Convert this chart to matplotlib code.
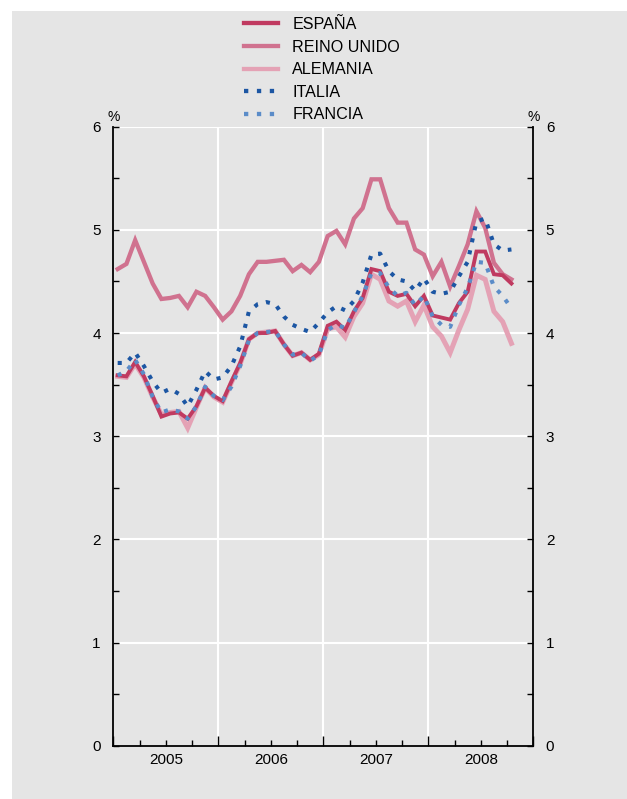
import matplotlib
matplotlib.use("Agg")
import matplotlib.pyplot as plt
from matplotlib.patches import Rectangle
from matplotlib.lines import Line2D
import numpy as np

plt.rcParams['font.family'] = ['Liberation Sans', 'DejaVu Sans']

# Monthly data, Jan 2005 - Oct 2008
years = ["2005", "2006", "2007", "2008"]
espana = [3.59, 3.58, 3.72, 3.58, 3.39, 3.19, 3.22, 3.23, 3.17, 3.29, 3.47, 3.39,
          3.34, 3.53, 3.71, 3.94, 4.00, 4.00, 4.02, 3.89, 3.78, 3.81, 3.74, 3.80,
          4.07, 4.11, 4.03, 4.21, 4.34, 4.62, 4.60, 4.40, 4.36, 4.38, 4.26, 4.36,
          4.17, 4.15, 4.13, 4.29, 4.40, 4.79, 4.79, 4.57, 4.56, 4.48]
reino_unido = [4.62, 4.67, 4.90, 4.69, 4.48, 4.33, 4.34, 4.36, 4.25, 4.40, 4.36, 4.25,
               4.13, 4.21, 4.36, 4.57, 4.69, 4.69, 4.70, 4.71, 4.60, 4.66, 4.59, 4.69,
               4.94, 4.99, 4.86, 5.11, 5.21, 5.49, 5.49, 5.21, 5.07, 5.07, 4.81, 4.76,
               4.55, 4.69, 4.45, 4.65, 4.86, 5.18, 5.02, 4.68, 4.57, 4.52]
alemania = [3.58, 3.57, 3.70, 3.57, 3.38, 3.21, 3.23, 3.24, 3.08, 3.28, 3.47, 3.38,
            3.33, 3.52, 3.70, 3.94, 4.00, 4.01, 4.02, 3.89, 3.78, 3.81, 3.74, 3.79,
            4.04, 4.06, 3.96, 4.16, 4.29, 4.57, 4.52, 4.31, 4.26, 4.31, 4.11, 4.27,
            4.06, 3.97, 3.81, 4.03, 4.23, 4.56, 4.52, 4.21, 4.11, 3.90]
italia = [3.71, 3.71, 3.81, 3.68, 3.53, 3.42, 3.46, 3.41, 3.29, 3.45, 3.63, 3.55,
          3.57, 3.68, 3.87, 4.21, 4.28, 4.30, 4.28, 4.16, 4.08, 4.04, 4.01, 4.10,
          4.20, 4.26, 4.22, 4.31, 4.49, 4.76, 4.77, 4.60, 4.52, 4.50, 4.41, 4.53,
          4.40, 4.38, 4.40, 4.55, 4.69, 5.08, 5.11, 4.86, 4.80, 4.81]
francia = [3.59, 3.63, 3.74, 3.60, 3.38, 3.23, 3.26, 3.24, 3.17, 3.29, 3.48, 3.39,
           3.35, 3.48, 3.68, 3.93, 4.00, 4.01, 4.02, 3.89, 3.79, 3.81, 3.73, 3.79,
           4.03, 4.08, 4.05, 4.20, 4.36, 4.58, 4.58, 4.44, 4.36, 4.39, 4.27, 4.36,
           4.16, 4.08, 4.06, 4.27, 4.44, 4.69, 4.68, 4.45, 4.36, 4.24]

W, H = 627, 799
fig = plt.figure(figsize=(W / 100, H / 100), dpi=100)
fig.patch.set_facecolor('white')
gray = '#e5e5e5'
fig.add_artist(Rectangle((12 / W, 0), 1 - 12 / W, 1 - 11 / H, transform=fig.transFigure,
                         facecolor=gray, edgecolor='none', zorder=0))

left, right, top, bottom = 113.3, 533.3, 126.7, 745.7
ax = fig.add_axes([left / W, 1 - bottom / H, (right - left) / W, (bottom - top) / H])
ax.set_facecolor(gray)

x = np.arange(len(espana)) + 0.5  # month midpoints (months since Jan 2005)

lw = 4.3 * 72 / 100
c_es = '#c03a60'
c_ru = '#d0728f'
c_al = '#e4a2b5'
c_it = '#1c56a3'
c_fr = '#5b8cc8'

ax.plot(x, reino_unido, color=c_ru, lw=lw, solid_joinstyle='miter', zorder=3, label='REINO UNIDO')
ax.plot(x, alemania, color=c_al, lw=lw * 1.15, solid_joinstyle='miter', zorder=3, label='ALEMANIA')
ax.plot(x, espana, color=c_es, lw=lw * 0.9, solid_joinstyle='miter', zorder=4, label='ESPAÑA')
ax.plot(x, italia, color=c_it, lw=lw * 0.95, dashes=(1, 2.0), dash_capstyle='butt', zorder=5, label='ITALIA')
ax.plot(x, francia, color=c_fr, lw=lw * 0.95, dashes=(1, 2.0), dash_capstyle='butt', zorder=6, label='FRANCIA')

ax.set_xlim(0, 48)
ax.set_ylim(0, 6)

# grid
for v in range(1, 7):
    ax.axhline(v, color='white', lw=1.5, zorder=1)
for v in (12, 24, 36):
    ax.axvline(v, color='white', lw=1.5, zorder=1)

ax.spines['top'].set_visible(False)
for s in ('left', 'right', 'bottom'):
    ax.spines[s].set_color('black')
    ax.spines[s].set_linewidth(1.3)

ax.set_yticks(np.arange(0, 7, 1))
ax.set_yticks(np.arange(0.5, 6, 1), minor=True)
ax.tick_params(axis='y', which='both', direction='in', left=True, right=True,
               labelleft=True, labelright=True, length=4, width=1, labelsize=11, pad=9)

ax.set_xticks([0, 12, 24, 36, 48])
ax.set_xticklabels([])
ax.set_xticks([3, 6, 9, 15, 18, 21, 27, 30, 33, 39, 42, 45], minor=True)
ax.tick_params(axis='x', which='major', direction='in', length=7, width=1)
ax.tick_params(axis='x', which='minor', direction='in', length=4, width=1)
for i, yl in enumerate(years):
    ax.text(6 + 12 * i, -0.07, yl, ha='center', va='top', fontsize=11,
            transform=ax.transData)

ax.text(0, 1.004, '%', transform=ax.transAxes, ha='center', va='bottom', fontsize=10)
ax.text(1, 1.004, '%', transform=ax.transAxes, ha='center', va='bottom', fontsize=10)

handles = [Line2D([], [], color=c_es, lw=lw),
           Line2D([], [], color=c_ru, lw=lw),
           Line2D([], [], color=c_al, lw=lw),
           Line2D([], [], color=c_it, lw=lw, dashes=(1, 2.0), dash_capstyle='butt'),
           Line2D([], [], color=c_fr, lw=lw, dashes=(1, 2.0), dash_capstyle='butt')]
labels = ['ESPAÑA', 'REINO UNIDO', 'ALEMANIA', 'ITALIA', 'FRANCIA']
fig.legend(handles, labels, loc='upper left', bbox_to_anchor=(244 / W, 1 - 17 / H),
           frameon=False, fontsize=11.6, handlelength=2.1, handletextpad=0.9,
           labelspacing=0.47, borderpad=0, borderaxespad=0)

fig.savefig('out.png', dpi=100, facecolor=fig.get_facecolor())
